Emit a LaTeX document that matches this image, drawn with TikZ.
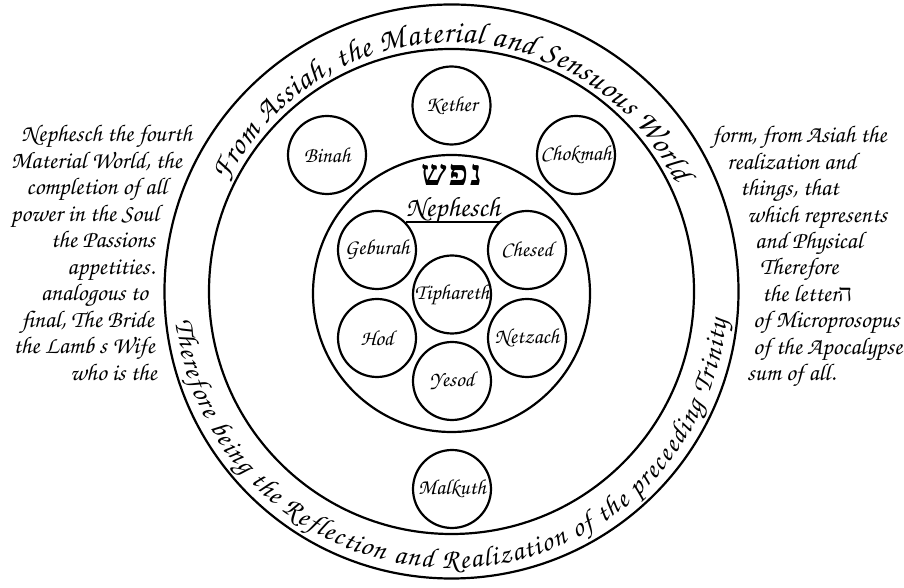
\documentclass[tikz,border=0pt]{standalone}
\usepackage{fontspec}
\setmainfont{texgyrechorus-mediumitalic}[Extension=.otf]
\newfontfamily\hebfont[Script=Hebrew]{Liberation Serif}
\usetikzlibrary{decorations.text}
\tikzset{
  ring/.style={draw, line width=2.2pt},
  seph/.style={circle, draw, line width=2.2pt, minimum size=78pt, inner sep=0pt, font=\fontsize{21.5}{21.5}\selectfont},
  lefttxt/.style={anchor=base east, inner sep=0pt, font=\fontsize{24}{24}\selectfont},
  righttxt/.style={anchor=base west, inner sep=0pt, font=\fontsize{24}{24}\selectfont},
}
\begin{document}
\begin{tikzpicture}[x=1pt,y=1pt]
\useasboundingbox (0,0) rectangle (904,588);
\coordinate (C) at (451.5,296.5);
% rings
\draw[ring] (C) circle[radius=287pt];
\draw[ring] (C) circle[radius=242.5pt];
\draw[ring] (451.5,294.5) circle[radius=138.5pt];
% sephiroth
\node[seph] (kether)   at (451.5,482.5) {Kether};
\node[seph] (binah)    at (327,433) {Binah};
\node[seph] (chokmah)  at (576,433) {Chokmah};
\node[seph] (geburah)  at (377,338) {Geburah};
\node[seph] (chesed)   at (527,338) {Chesed};
\node[seph] (tiphareth) at (452,293.5) {Tiphareth};
\node[seph] (hod)      at (377,250) {Hod};
\node[seph] (netzach)  at (527,250) {Netzach};
\node[seph] (yesod)    at (452,207) {Yesod};
\node[seph] (malkuth)  at (452,99) {Malkuth};
% hebrew title and Nephesch
\node[inner sep=0pt] (heb) at (451.5,413) {\hebfont\bfseries\fontsize{36}{36}\selectfont\hbox{ש}\kern2pt\hbox{פ}\kern2pt\hbox{נ}};
\node[anchor=base, inner sep=0pt, font=\fontsize{28}{28}\selectfont] (neph) at (453,371) {Nephesch};
\draw[line width=1.8pt] ([yshift=-5pt]neph.base west) -- ([yshift=-5pt]neph.base east);
% arc texts
\path[decorate, decoration={text along path, text align={fit to path},
  text={|\fontsize{31}{31}\selectfont|From Assiah, the Material and Sensuous World}}]
  (C) ++(154:249pt) arc[start angle=154, end angle=26, radius=249pt];
\path[decorate, decoration={text along path, text align={fit to path},
  text={|\fontsize{28}{28}\selectfont|Therefore being the Reflection and Realization of the preceeding Trinity}}]
  (C) ++(186:277pt) arc[start angle=186, end angle=354, radius=277pt];
% left text
\node[lefttxt] (l1) at (192,446) {Nephesch the fourth};
\node[lefttxt] (l2) at (182,419.5) {Material World, the};
\node[lefttxt] (l3) at (167,393) {completion of all};
\node[lefttxt] (l4) at (159,366.5) {power in the Soul};
\node[lefttxt] (l5) at (155,340) {the Passions};
\node[lefttxt] (l6) at (155,313.5) {appetities.};
\node[lefttxt] (l7) at (148,287) {analogous to};
\node[lefttxt] (l8) at (154,260.5) {final, The Bride};
\node[lefttxt] (l9) at (155,234) {the Lamb s Wife};
\node[lefttxt] (l10) at (157,207.5) {who is the};
% right text
\node[righttxt] (r1) at (712,445) {form, from Asiah the};
\node[righttxt] (r2) at (727,418.6) {realization and};
\node[righttxt] (r3) at (740,392.2) {things, that};
\node[righttxt] (r4) at (747,365.8) {which represents};
\node[righttxt] (r5) at (755,339.4) {and Physical};
\node[righttxt] (r6) at (760,313) {Therefore};
\node[righttxt] (r7) at (762,286.6) {the letter{\hebfont ה}};
\node[righttxt] (r8) at (753,260.2) {of Microprosopus};
\node[righttxt] (r9) at (753,233.8) {of the Apocalypse};
\node[righttxt] (r10) at (747,207.4) {sum of all.};
\end{tikzpicture}
\end{document}
